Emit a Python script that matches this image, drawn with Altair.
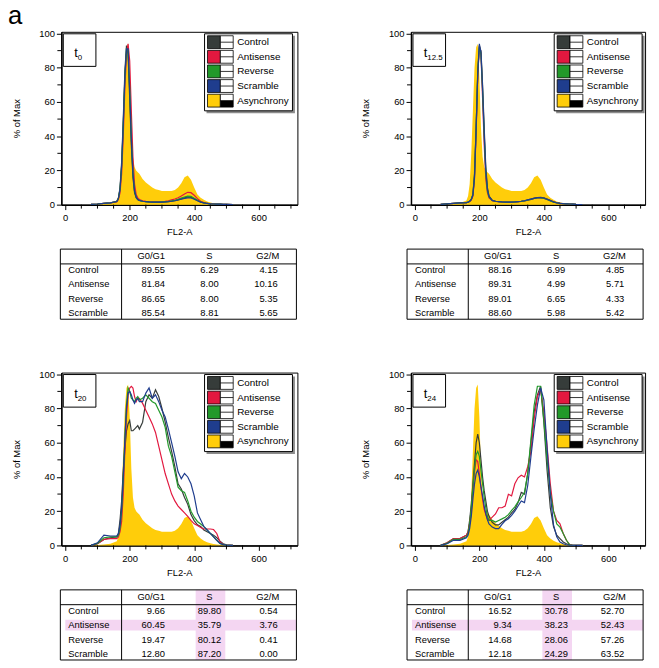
import altair as alt
import pandas as pd

NARROW = "Liberation Sans"
SANS = "Liberation Sans"

# FL2-A channel grid
X = [80, 100, 120, 140, 160, 165, 170, 175, 180, 185, 190, 195, 200, 205, 210, 215,
     220, 225, 230, 240, 250, 260, 270, 280, 290, 300, 310, 320, 330, 340, 350, 360,
     370, 380, 390, 400, 410, 420, 430, 440, 450, 460, 470, 480, 490, 500, 520]

# Asynchrony reference (filled, same in every panel)
ASYNC = [0, 0.3, 0.6, 1.0, 2.5, 5, 12, 30, 55, 80, 92, 94, 75, 45, 28, 22, 20, 19, 18,
         15, 13, 11.5, 10, 9, 8.5, 8, 8, 8, 8, 8.5, 10, 12.5, 16, 17, 14.5, 10, 6, 4, 2.8,
         1.8, 1.2, 0.8, 0.6, 0.4, 0.3, 0.2, 0]

# t0
T0_CONTROL = [0.2, 0.4, 0.7, 1.0, 2.0, 4, 10, 25, 50, 78, 93, 88, 62, 35, 16, 7, 4, 3, 2.5,
              2, 1.8, 1.6, 1.5, 1.5, 1.5, 1.5, 1.6, 1.8, 2.0, 2.3, 2.8, 3.3, 4.0, 4.5, 4.3,
              3.5, 2.5, 1.6, 1.0, 0.7, 0.5, 0.4, 0.3, 0.3, 0.2, 0.2, 0.1]
T0_ANTISENSE = [0.2, 0.4, 0.7, 1.0, 1.6, 3, 7, 18, 40, 68, 88, 94, 84, 55, 28, 12, 6, 4, 3,
                2.3, 2.0, 1.8, 1.7, 1.7, 1.7, 1.8, 2.0, 2.3, 2.8, 3.3, 4.0, 5.0, 6.2, 7.2, 7.0,
                5.5, 3.5, 2.0, 1.2, 0.8, 0.6, 0.4, 0.3, 0.3, 0.2, 0.2, 0.1]
T0_REVERSE = [0.2, 0.4, 0.7, 1.0, 1.8, 3.5, 9, 22, 46, 74, 91, 90, 68, 40, 19, 8, 4.5, 3, 2.5,
              2, 1.8, 1.6, 1.5, 1.5, 1.5, 1.6, 1.7, 1.9, 2.2, 2.6, 3.1, 3.8, 4.5, 5.0, 4.8,
              3.8, 2.6, 1.6, 1.0, 0.7, 0.5, 0.4, 0.3, 0.3, 0.2, 0.2, 0.1]
T0_SCRAMBLE = [0.2, 0.4, 0.7, 1.0, 1.8, 3.5, 9, 23, 47, 75, 91, 91, 66, 38, 18, 8, 4.5, 3, 2.5,
               2, 1.8, 1.6, 1.5, 1.5, 1.5, 1.5, 1.6, 1.7, 2.0, 2.3, 2.7, 3.2, 3.7, 4.0, 3.9,
               3.2, 2.3, 1.5, 1.0, 0.7, 0.5, 0.4, 0.3, 0.3, 0.2, 0.2, 0.1]

# t12.5
T12_CONTROL = [0.2, 0.5, 0.8, 1.0, 1.2, 1.5, 2, 3, 6, 18, 45, 76, 92, 90, 70, 45, 22, 10, 5,
               2.5, 2, 1.8, 1.6, 1.5, 1.5, 1.5, 1.6, 1.8, 2.0, 2.3, 2.8, 3.3, 3.8, 4.2, 4.3,
               4.0, 3.3, 2.5, 1.7, 1.1, 0.8, 0.6, 0.5, 0.4, 0.3, 0.2, 0.1]
T12_ANTISENSE = [0.2, 0.5, 0.8, 1.0, 1.2, 1.4, 1.8, 2.6, 5, 15, 42, 75, 93, 88, 62, 35, 15, 7, 4,
                 2.3, 1.9, 1.7, 1.6, 1.5, 1.5, 1.5, 1.6, 1.7, 1.9, 2.2, 2.6, 3.1, 3.6, 3.9, 4.0,
                 3.8, 3.1, 2.3, 1.6, 1.0, 0.8, 0.6, 0.5, 0.4, 0.3, 0.2, 0.1]
T12_REVERSE = [0.2, 0.5, 0.8, 1.0, 1.2, 1.5, 2, 3, 6, 17, 45, 78, 93, 88, 66, 40, 18, 8, 4.5,
               2.4, 2, 1.8, 1.6, 1.5, 1.5, 1.5, 1.6, 1.7, 1.9, 2.2, 2.6, 3.1, 3.6, 3.9, 4.0,
               3.7, 3.0, 2.2, 1.5, 1.0, 0.8, 0.6, 0.5, 0.4, 0.3, 0.2, 0.1]
T12_SCRAMBLE = [0.2, 0.5, 0.8, 1.0, 1.2, 1.5, 2, 3, 5.5, 16, 44, 77, 94, 89, 68, 42, 20, 9, 4.8,
                2.5, 2, 1.8, 1.6, 1.5, 1.5, 1.5, 1.6, 1.8, 2.0, 2.3, 2.8, 3.2, 3.7, 4.1, 4.2,
                3.9, 3.2, 2.4, 1.6, 1.1, 0.8, 0.6, 0.5, 0.4, 0.3, 0.2, 0.1]

# t20
T20_CONTROL = [0, 1.0, 3.5, 4.5, 5, 7, 15, 26, 44, 56, 67, 71, 73, 67, 67, 68, 69, 70, 68,
               72, 84, 88, 86, 91, 87, 80, 72, 63, 55, 46, 36, 33, 28, 24, 18, 14.5, 12, 11, 9,
               8, 7, 6, 4.5, 2.5, 1, 0.3, 0]
T20_ANTISENSE = [0, 1, 3.5, 4, 4, 5, 8, 14, 30, 55, 75, 88, 92, 93, 92, 87, 84, 86, 86,
                 83, 79, 75, 71, 66, 58, 50, 42, 36, 30, 26, 23, 21, 19, 17, 14.6, 12.6, 11.6,
                 10.5, 9.6, 9.6, 9.6, 9.3, 7, 2, 0.5, 0.2, 0]
T20_REVERSE = [0, 1.2, 4.5, 5, 5, 6, 10, 20, 38, 62, 82, 92, 90, 86, 85, 84, 86, 87, 85,
               86, 88, 86, 84, 83, 79, 75, 69, 58, 52, 43, 34, 32, 31, 26, 20, 16.5, 14, 12.5,
               11, 9, 7, 5, 3, 1.2, 0.5, 0.2, 0]
T20_SCRAMBLE = [0, 1.5, 6, 5.5, 5.5, 7, 12, 22, 40, 62, 80, 89, 90, 88, 85, 83, 85, 86, 84,
                84, 89, 92, 86, 88, 84, 79, 75, 68, 60, 52, 43, 39, 42, 40, 36, 29, 19, 15, 11,
                9, 7, 5, 3, 1.2, 0.5, 0.2, 0]

# t24
T24_CONTROL = [0, 1.5, 4, 4, 6, 8, 15, 24, 36, 48, 60, 65, 60, 50, 40, 32, 26, 20, 17,
               13.5, 12, 12, 13.5, 15, 16.5, 19, 21, 25, 31, 30, 42, 60, 78, 88, 93, 72, 44,
               22, 11, 6, 4, 2, 1, 0.3, 0.1, 0, 0]
T24_ANTISENSE = [0, 1.5, 4, 4, 6, 8, 13, 20, 32, 43, 50, 49, 42, 34, 27, 21, 18, 15.5, 14.6,
                 16.5, 18.4, 22, 22, 23, 29.9, 29, 36, 39.5, 41, 40, 46, 55, 74, 87, 91, 78, 58,
                 36, 20, 14.6, 12.6, 7, 3, 0.5, 0.1, 0, 0]
T24_REVERSE = [0, 1.2, 3.5, 3.5, 5, 7, 13, 22, 34, 45, 53, 55, 52, 44, 36, 28, 22, 17, 14.6,
               14.6, 13.6, 14.6, 15.5, 16.5, 18, 20.5, 22.5, 25.5, 28, 31, 42, 62, 82, 93, 93,
               73, 50, 31, 20, 12.6, 10.7, 7, 3, 0.3, 0.1, 0, 0]
T24_SCRAMBLE = [0, 1, 3, 3, 4.5, 6, 10, 17, 27, 36, 42, 44, 40, 34, 29, 23, 18.4, 15, 12.6,
                10.7, 9.8, 9.8, 12.3, 14.4, 15.6, 17.5, 20, 23, 26, 25, 35, 52, 68, 82, 92, 85,
                57, 30, 12, 5, 2, 1, 0.4, 0.2, 0.1, 0, 0]

# tables (percent of cells per phase)
ROWS = ["Control", "Antisense", "Reverse", "Scramble"]
COLS = ["G0/G1", "S", "G2/M"]
T0_G1 = ["89.55", "81.84", "86.65", "85.54"]
T0_S = ["6.29", "8.00", "8.00", "8.81"]
T0_G2 = ["4.15", "10.16", "5.35", "5.65"]
T12_G1 = ["88.16", "89.31", "89.01", "88.60"]
T12_S = ["6.99", "4.99", "6.65", "5.98"]
T12_G2 = ["4.85", "5.71", "4.33", "5.42"]
T20_G1 = ["9.66", "60.45", "19.47", "12.80"]
T20_S = ["89.80", "35.79", "80.12", "87.20"]
T20_G2 = ["0.54", "3.76", "0.41", "0.00"]
T24_G1 = ["16.52", "9.34", "14.68", "12.18"]
T24_S = ["30.78", "38.23", "28.06", "24.29"]
T24_G2 = ["52.70", "52.43", "57.26", "63.52"]

X_LABELS = [0, 200, 400, 600]
X_MINOR = [50, 100, 150, 250, 300, 350, 450, 500, 550, 650, 700]
Y_LABELS = [0, 20, 40, 60, 80, 100]
Y_MINOR = [10, 30, 50, 70, 90]

SERIES = ["Control", "Antisense", "Reverse", "Scramble"]
LINE_COLORS = ["#363c3a", "#e2183f", "#22992a", "#1f3d8e"]
YELLOW = "#ffcd0a"
PINK = "#f4d6f2"
LEGEND_NAMES = SERIES + ["Asynchrony"]
LEGEND_COLORS = LINE_COLORS + [YELLOW]

ONE = pd.DataFrame({"k": [0]})


def hist(curves, sub, width, show_a=False):
    xmax = -12 + width / 0.3265
    xs = alt.Scale(domain=[-12, xmax], nice=False, zero=False)
    ys = alt.Scale(domain=[0, 101], nice=False, zero=False)
    xaxis = alt.Axis(values=X_LABELS, title="FL2-A", grid=False, tickSize=5,
                     labelPadding=3, titlePadding=5, domainWidth=1.5, labelOverlap=False)
    yaxis = alt.Axis(values=Y_LABELS, title="% of Max", grid=False, tickSize=5,
                     labelPadding=2, titlePadding=18, domainWidth=1.5, labelOverlap=False)
    df_a = pd.DataFrame({"x": X, "y": ASYNC})
    rows = []
    for name in SERIES:
        for xv, yv in zip(X, curves[name]):
            rows.append({"x": xv, "y": yv, "series": name})
    df_l = pd.DataFrame(rows)
    area = alt.Chart(df_a).mark_area(color=YELLOW, interpolate="linear").encode(
        x=alt.X("x:Q", scale=xs, axis=xaxis),
        y=alt.Y("y:Q", scale=ys, axis=yaxis))
    lines = alt.Chart(df_l).mark_line(strokeWidth=1.2).encode(
        x=alt.X("x:Q", scale=xs, axis=xaxis), y=alt.Y("y:Q", scale=ys, axis=yaxis),
        color=alt.Color("series:N", scale=alt.Scale(domain=SERIES, range=LINE_COLORS),
                        legend=None))
    # minor ticks on both axes
    xminor = alt.Chart(pd.DataFrame({"x": X_MINOR})).mark_rule(color="black", strokeWidth=1).encode(
        x=alt.X("x:Q", scale=xs, axis=xaxis), y=alt.value(175), y2=alt.value(179))
    yminor = alt.Chart(pd.DataFrame({"y": Y_MINOR})).mark_rule(color="black", strokeWidth=1).encode(
        y=alt.Y("y:Q", scale=ys, axis=yaxis), x=alt.value(-4), x2=alt.value(0))

    leg = pd.DataFrame({"name": LEGEND_NAMES, "color": LEGEND_COLORS, "i": list(range(5))})
    base = alt.Chart(leg).transform_calculate(
        y0="4 + 14.8 * datum.i", y1="17 + 14.8 * datum.i", ym="10.5 + 14.8 * datum.i")
    shadow = alt.Chart(ONE).mark_rect(fill="#8c8c8c").encode(
        x=alt.value(147), x2=alt.value(236.5), y=alt.value(4), y2=alt.value(82.5))
    box = alt.Chart(ONE).mark_rect(fill="white", stroke="black", strokeWidth=1).encode(
        x=alt.value(145), x2=alt.value(234), y=alt.value(2), y2=alt.value(80))
    sw = base.mark_rect(stroke="black", strokeWidth=0.8).encode(
        x=alt.value(148), x2=alt.value(161), y=alt.Y("y0:Q", scale=None), y2="y1:Q",
        fill=alt.Fill("color:N", scale=None))
    wb = base.mark_rect(fill="white", stroke="black", strokeWidth=0.8).encode(
        x=alt.value(161), x2=alt.value(174), y=alt.Y("y0:Q", scale=None), y2="y1:Q")
    blk = base.transform_filter("datum.i == 4").mark_rect(fill="black").encode(
        x=alt.value(161), x2=alt.value(174), y=alt.Y("ym:Q", scale=None), y2="y1:Q")
    mid = base.mark_rule(color="black", strokeWidth=0.8).encode(
        x=alt.value(161), x2=alt.value(174), y=alt.Y("ym:Q", scale=None))
    txt = base.mark_text(align="left", baseline="middle", font=SANS, fontSize=10,
                         color="black").encode(
        x=alt.value(178), y=alt.Y("ym:Q", scale=None), text="name:N")

    tb = alt.Chart(ONE).mark_rect(fill="white", stroke="black", strokeWidth=1).encode(
        x=alt.value(2), x2=alt.value(35), y=alt.value(2), y2=alt.value(35))
    tt = alt.Chart(ONE).mark_text(text="t", font=SANS, fontSize=13, align="left",
                                  baseline="alphabetic", color="black").encode(
        x=alt.value(13), y=alt.value(26))
    ts = alt.Chart(ONE).mark_text(text=sub, font=SANS, fontSize=8, align="left",
                                  baseline="alphabetic", color="black").encode(
        x=alt.value(16.5), y=alt.value(29))
    layers = [area, lines, xminor, yminor, shadow, box, sw, wb, blk, mid, txt, tb, tt, ts]
    if show_a:
        layers.append(alt.Chart(ONE).mark_text(text="a", font=SANS, fontSize=26, align="left",
                                               baseline="alphabetic", color="black").encode(
            x=alt.value(-54), y=alt.value(-8)))
    return alt.layer(*layers).properties(
        width=width, height=175,
        view=alt.ViewBackground(stroke="black", strokeWidth=1))


def table(g1, s, g2, xoff, height, highlight=False):
    df = pd.DataFrame({"row": ROWS, "g1": g1, "s": s, "g2": g2})
    ys = alt.Scale(type="point", domain=ROWS, range=[21, 65], padding=0)
    base = alt.Chart(df)
    layers = []
    if highlight:
        layers.append(alt.Chart(ONE).mark_rule(color=PINK, strokeWidth=30).encode(
            x=alt.value(152 + xoff), y=alt.value(0), y2=alt.value(71)))
        layers.append(base.transform_filter("datum.row == 'Antisense'").mark_rule(
            color=PINK, strokeWidth=11).encode(
            x=alt.value(5 + xoff), x2=alt.value(239 + xoff),
            y=alt.Y("row:N", scale=ys, axis=None)))
    layers.append(alt.Chart(ONE).mark_rect(filled=False, color="black", strokeWidth=1).encode(
        x=alt.value(0 + xoff), x2=alt.value(239 + xoff), y=alt.value(0), y2=alt.value(71)))
    layers.append(alt.Chart(ONE).mark_rule(color="black", strokeWidth=1).encode(
        x=alt.value(62 + xoff), y=alt.value(0), y2=alt.value(71)))
    layers.append(alt.Chart(ONE).mark_rule(color="black", strokeWidth=1).encode(
        x=alt.value(0 + xoff), x2=alt.value(239 + xoff), y=alt.value(15)))
    hdr = pd.DataFrame({"col": COLS})
    layers.append(alt.Chart(hdr).mark_text(font=NARROW, fontSize=9.5, baseline="middle",
                                           align="center", color="black").encode(
        x=alt.X("col:N", scale=alt.Scale(type="point", domain=COLS,
                                         range=[92 + xoff, 210 + xoff], padding=0), axis=None),
        y=alt.value(7.5), text="col:N"))
    tstyle = dict(font=NARROW, fontSize=9.5, baseline="middle", color="black")
    layers.append(base.mark_text(align="left", **tstyle).encode(
        x=alt.value(8 + xoff), y=alt.Y("row:N", scale=ys, axis=None), text="row:N"))
    layers.append(base.mark_text(align="right", **tstyle).encode(
        x=alt.value(106 + xoff), y=alt.Y("row:N", scale=ys, axis=None), text="g1:N"))
    layers.append(base.mark_text(align="center", **tstyle).encode(
        x=alt.value(151 + xoff), y=alt.Y("row:N", scale=ys, axis=None), text="s:N"))
    layers.append(base.mark_text(align="right", **tstyle).encode(
        x=alt.value(220 + xoff), y=alt.Y("row:N", scale=ys, axis=None), text="g2:N"))
    return alt.layer(*layers).properties(width=239, height=height)


def curves(c, a, r, s):
    return {"Control": c, "Antisense": a, "Reverse": r, "Scramble": s}


h1 = hist(curves(T0_CONTROL, T0_ANTISENSE, T0_REVERSE, T0_SCRAMBLE), "0", 239, show_a=True)
h2 = hist(curves(T12_CONTROL, T12_ANTISENSE, T12_REVERSE, T12_SCRAMBLE), "12.5", 237)
h3 = hist(curves(T20_CONTROL, T20_ANTISENSE, T20_REVERSE, T20_SCRAMBLE), "20", 239)
h4 = hist(curves(T24_CONTROL, T24_ANTISENSE, T24_REVERSE, T24_SCRAMBLE), "24", 237)
t1 = table(T0_G1, T0_S, T0_G2, -1, 80)
t2 = table(T12_G1, T12_S, T12_G2, -4, 80)
t3 = table(T20_G1, T20_S, T20_G2, -1, 71, highlight=True)
t4 = table(T24_G1, T24_S, T24_G2, -4, 71, highlight=True)

chart = alt.concat(h1, h2, t1, t2, h3, h4, t3, t4, columns=2,
                   spacing={"row": 45, "column": 115}, bounds="flush").properties(
    padding={"left": 54, "top": 20, "right": 597, "bottom": 640},
    autosize=alt.AutoSizeParams(type="none"),
    background="white",
).configure_view(stroke=None).configure_axis(
    labelFont=NARROW, labelFontSize=9.5, titleFont=NARROW, titleFontSize=9.5,
    titleFontWeight="normal", labelColor="black", titleColor="black",
    tickColor="black", domainColor="black", tickWidth=1)

chart.save("out.html", embed_options={"renderer": "svg", "actions": False})
